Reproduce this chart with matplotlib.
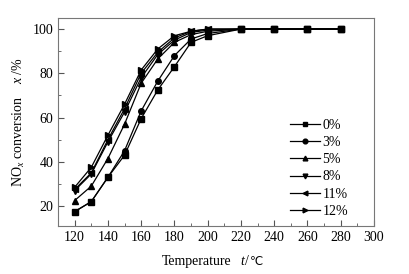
import matplotlib
matplotlib.use('Agg')
import matplotlib.pyplot as plt
from matplotlib.ticker import MultipleLocator

plt.rcParams['font.family'] = ['Liberation Serif', 'DejaVu Sans']
plt.rcParams['mathtext.fontset'] = 'custom'
plt.rcParams['mathtext.rm'] = 'Liberation Serif'
plt.rcParams['mathtext.it'] = 'Liberation Serif:italic'

# 温度
temp = [120, 130, 140, 150, 160, 170, 180, 190, 200, 220, 240, 260, 280]

# NOx 转化率
conv_0 = [17.5, 22, 33, 43, 59.5, 72.5, 83, 94, 97, 100, 100, 100, 100]
conv_3 = [17.5, 22, 33, 45, 63, 76.5, 88, 95.5, 98, 100, 100, 100, 100]
conv_5 = [22.5, 29, 41.5, 57, 75.5, 86.5, 94, 97.5, 99, 100, 100, 100, 100]
conv_8 = [27, 34.5, 49, 62.5, 78, 88.5, 95, 98.5, 99.5, 100, 100, 100, 100]
conv_11 = [27.5, 35, 50, 64, 80, 89.5, 96, 99, 100, 100, 100, 100, 100]
conv_12 = [28.5, 37.5, 52, 66, 81.5, 91, 97, 99, 100, 100, 100, 100, 100]

labels = ['0%', '3%', '5%', '8%', '11%', '12%']
series = [conv_0, conv_3, conv_5, conv_8, conv_11, conv_12]
markers = ['s', 'o', '^', 'v', '<', '>']

fig = plt.figure(figsize=(4.10, 2.74), dpi=100)
ax = fig.add_axes([58/410, 48/274, 316/410, 208/274])

for y, lab, m in zip(series, labels, markers):
    ax.plot(temp, y, color='black', lw=0.9, marker=m, ms=4, label=lab)

ax.set_xlim(110, 300)
ax.set_ylim(11, 105)
ax.xaxis.set_major_locator(MultipleLocator(20))
ax.xaxis.set_minor_locator(MultipleLocator(10))
ax.yaxis.set_major_locator(MultipleLocator(20))
ax.yaxis.set_minor_locator(MultipleLocator(10))
ax.tick_params(which='both', direction='in', top=False, right=False,
               labelsize=10, color='#555555')
ax.tick_params(which='major', length=4)
ax.tick_params(which='minor', length=2.5)
for s in ax.spines.values():
    s.set_color('#777777')
    s.set_linewidth(0.8)

# x 轴标题（分段写，℃ 需要回退字体）
fy = 1 - 265/274
fig.text(162/410, fy, 'Temperature', fontsize=10, va='baseline')
fig.text(240/410, fy, 't', fontsize=10, style='italic', va='baseline')
fig.text(245/410, fy, '/', fontsize=10, va='baseline')
fig.text(250/410, fy, '℃', fontsize=8.5, va='baseline')

ax.set_ylabel('NO$_x$ conversion    $\\it{x}$ /%', fontsize=10, labelpad=4)

ax.legend(loc='upper left', bbox_to_anchor=(0.734, 0.515), frameon=False,
          fontsize=10, handlelength=2.2, labelspacing=0.3, markerscale=0.85,
          handletextpad=0.15, borderaxespad=0, borderpad=0)

fig.savefig('out.png', dpi=100)
